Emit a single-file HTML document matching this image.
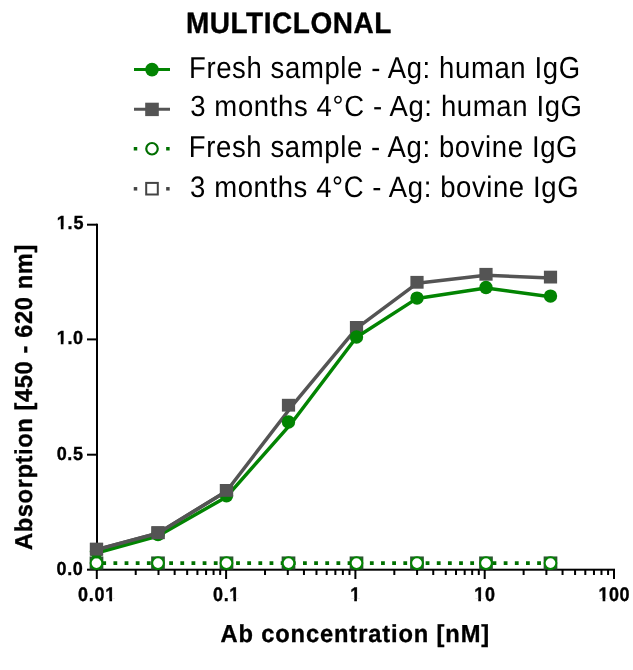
<!DOCTYPE html><html><head><meta charset="utf-8"><style>html,body{margin:0;padding:0;background:#fff;width:633px;height:670px;overflow:hidden}svg{display:block;will-change:transform}text{font-family:"Liberation Sans",sans-serif;text-rendering:geometricPrecision}</style></head><body>
<svg width="633" height="670" viewBox="0 0 633 670">
<rect width="633" height="670" fill="#fff"/>
<text transform="translate(185.94,33.00) scale(1.0000,1.0484)" font-size="28" font-weight="bold" stroke="#000" stroke-width="0.35" letter-spacing="0.526" fill="#000">MULTICLONAL</text>
<text transform="translate(188.99,77.80) scale(1.0000,1.1021)" font-size="27.5" letter-spacing="0.616" fill="#000">Fresh sample - Ag: human IgG</text>
<text transform="translate(190.14,116.20) scale(1.0000,1.0620)" font-size="27.5" letter-spacing="0.632" fill="#000">3 months 4°C - Ag: human IgG</text>
<text transform="translate(188.84,156.90) scale(1.0000,1.0939)" font-size="27.5" letter-spacing="0.614" fill="#000">Fresh sample - Ag: bovine IgG</text>
<text transform="translate(190.00,197.00) scale(1.0000,1.0755)" font-size="27.5" letter-spacing="0.599" fill="#000">3 months 4°C - Ag: bovine IgG</text>
<text transform="translate(56.72,229.00) scale(1.0000,1.0500)" font-size="18" font-weight="bold" stroke="#000" stroke-width="0.35" letter-spacing="0.893" fill="#000">1.5</text>
<text transform="translate(56.69,344.10) scale(1.0000,1.0500)" font-size="18" font-weight="bold" stroke="#000" stroke-width="0.35" letter-spacing="0.691" fill="#000">1.0</text>
<text transform="translate(56.66,459.70) scale(1.0000,1.0500)" font-size="18" font-weight="bold" stroke="#000" stroke-width="0.35" letter-spacing="0.684" fill="#000">0.5</text>
<text transform="translate(56.56,574.60) scale(1.0000,1.0500)" font-size="18" font-weight="bold" stroke="#000" stroke-width="0.35" letter-spacing="0.602" fill="#000">0.0</text>
<text transform="translate(77.94,600.80) scale(1.0000,1.0900)" font-size="18" font-weight="bold" stroke="#000" stroke-width="0.35" letter-spacing="0.780" fill="#000">0.01</text>
<text transform="translate(213.02,600.80) scale(1.0000,1.0900)" font-size="18" font-weight="bold" stroke="#000" stroke-width="0.35" letter-spacing="0.635" fill="#000">0.1</text>
<text transform="translate(350.14,600.80) scale(1.0000,1.0900)" font-size="18" font-weight="bold" stroke="#000" stroke-width="0.35" letter-spacing="0.600" fill="#000">1</text>
<text transform="translate(474.17,600.80) scale(1.0000,1.0900)" font-size="18" font-weight="bold" stroke="#000" stroke-width="0.35" letter-spacing="0.900" fill="#000">10</text>
<text transform="translate(598.52,600.80) scale(1.0000,1.0900)" font-size="18" font-weight="bold" stroke="#000" stroke-width="0.35" letter-spacing="0.438" fill="#000">100</text>
<text transform="translate(220.47,641.90) scale(0.9400,0.9762)" font-size="25.2" font-weight="bold" stroke="#000" stroke-width="0.35" letter-spacing="0.931" fill="#000">Ab concentration [nM]</text>
<g transform="translate(31.90,549.91) rotate(-90)"><text transform="translate(0.00,0.00) scale(0.9400,0.9701)" font-size="25.2" font-weight="bold" stroke="#000" stroke-width="0.35" letter-spacing="0.640" fill="#000">Absorption [450 - 620 nm]</text></g>
<rect x="56.86" y="226.62" width="3.97" height="3.93" fill="#fff"/>
<rect x="63.49" y="226.62" width="3.84" height="3.93" fill="#fff"/>
<rect x="56.83" y="341.72" width="3.97" height="3.93" fill="#fff"/>
<rect x="63.47" y="341.72" width="3.84" height="3.93" fill="#fff"/>
<rect x="105.44" y="598.35" width="3.97" height="4.00" fill="#fff"/>
<rect x="112.08" y="598.35" width="3.84" height="4.00" fill="#fff"/>
<rect x="229.44" y="598.35" width="3.97" height="4.00" fill="#fff"/>
<rect x="236.07" y="598.35" width="3.84" height="4.00" fill="#fff"/>
<rect x="350.27" y="598.35" width="3.97" height="4.00" fill="#fff"/>
<rect x="356.91" y="598.35" width="3.84" height="4.00" fill="#fff"/>
<rect x="474.31" y="598.35" width="3.97" height="4.00" fill="#fff"/>
<rect x="480.95" y="598.35" width="3.84" height="4.00" fill="#fff"/>
<rect x="598.66" y="598.35" width="3.97" height="4.00" fill="#fff"/>
<rect x="605.29" y="598.35" width="3.84" height="4.00" fill="#fff"/>
<line x1="134" y1="69.6" x2="170" y2="69.6" stroke="#028402" stroke-width="3"/>
<circle cx="152" cy="69.6" r="6.8" fill="#028402"/>
<line x1="134" y1="109.3" x2="170" y2="109.3" stroke="#545454" stroke-width="3"/>
<rect x="145.2" y="102.7" width="13.6" height="13.4" fill="#545454"/>
<rect x="133.75" y="147.0" width="3.5" height="3.5" fill="#007000"/><rect x="166.15" y="147.0" width="3.5" height="3.5" fill="#007000"/>
<rect x="133.75" y="187.05" width="3.5" height="3.5" fill="#444444"/><rect x="166.15" y="187.05" width="3.5" height="3.5" fill="#444444"/>
<circle cx="152" cy="148.75" r="5.75" fill="#fff" stroke="#006e00" stroke-width="2.2"/>
<rect x="146.2" y="182.9" width="11.6" height="11.6" fill="#fff" stroke="#444444" stroke-width="2.0"/>
<rect x="96" y="223.7" width="2" height="347.00" fill="#000"/>
<rect x="87" y="568.7" width="528" height="2" fill="#000"/>
<rect x="87" y="223.7" width="10" height="2" fill="#000"/>
<rect x="87" y="338.4" width="10" height="2" fill="#000"/>
<rect x="87" y="453.7" width="10" height="2" fill="#000"/>
<rect x="95.80" y="569.7" width="2" height="9.3" fill="#000"/>
<rect x="225.10" y="569.7" width="2" height="9.3" fill="#000"/>
<rect x="354.40" y="569.7" width="2" height="9.3" fill="#000"/>
<rect x="483.70" y="569.7" width="2" height="9.3" fill="#000"/>
<rect x="613.00" y="569.7" width="2" height="9.3" fill="#000"/>
<rect x="134.72" y="569.7" width="2" height="5.3" fill="#000"/>
<rect x="157.49" y="569.7" width="2" height="5.3" fill="#000"/>
<rect x="173.65" y="569.7" width="2" height="5.3" fill="#000"/>
<rect x="186.18" y="569.7" width="2" height="5.3" fill="#000"/>
<rect x="196.41" y="569.7" width="2" height="5.3" fill="#000"/>
<rect x="205.07" y="569.7" width="2" height="5.3" fill="#000"/>
<rect x="212.57" y="569.7" width="2" height="5.3" fill="#000"/>
<rect x="219.18" y="569.7" width="2" height="5.3" fill="#000"/>
<rect x="264.02" y="569.7" width="2" height="5.3" fill="#000"/>
<rect x="286.79" y="569.7" width="2" height="5.3" fill="#000"/>
<rect x="302.95" y="569.7" width="2" height="5.3" fill="#000"/>
<rect x="315.48" y="569.7" width="2" height="5.3" fill="#000"/>
<rect x="325.71" y="569.7" width="2" height="5.3" fill="#000"/>
<rect x="334.37" y="569.7" width="2" height="5.3" fill="#000"/>
<rect x="341.87" y="569.7" width="2" height="5.3" fill="#000"/>
<rect x="348.48" y="569.7" width="2" height="5.3" fill="#000"/>
<rect x="393.32" y="569.7" width="2" height="5.3" fill="#000"/>
<rect x="416.09" y="569.7" width="2" height="5.3" fill="#000"/>
<rect x="432.25" y="569.7" width="2" height="5.3" fill="#000"/>
<rect x="444.78" y="569.7" width="2" height="5.3" fill="#000"/>
<rect x="455.01" y="569.7" width="2" height="5.3" fill="#000"/>
<rect x="463.67" y="569.7" width="2" height="5.3" fill="#000"/>
<rect x="471.17" y="569.7" width="2" height="5.3" fill="#000"/>
<rect x="477.78" y="569.7" width="2" height="5.3" fill="#000"/>
<rect x="522.62" y="569.7" width="2" height="5.3" fill="#000"/>
<rect x="545.39" y="569.7" width="2" height="5.3" fill="#000"/>
<rect x="561.55" y="569.7" width="2" height="5.3" fill="#000"/>
<rect x="574.08" y="569.7" width="2" height="5.3" fill="#000"/>
<rect x="584.31" y="569.7" width="2" height="5.3" fill="#000"/>
<rect x="592.97" y="569.7" width="2" height="5.3" fill="#000"/>
<rect x="600.47" y="569.7" width="2" height="5.3" fill="#000"/>
<rect x="607.08" y="569.7" width="2" height="5.3" fill="#000"/>
<rect x="90.75" y="557.55" width="11.5" height="10.9" fill="#fff" stroke="#2c5532" stroke-width="2.2"/>
<rect x="152.25" y="557.55" width="11.5" height="10.9" fill="#fff" stroke="#2c5532" stroke-width="2.2"/>
<rect x="220.75" y="557.55" width="11.5" height="10.9" fill="#fff" stroke="#2c5532" stroke-width="2.2"/>
<rect x="282.75" y="557.55" width="11.5" height="10.9" fill="#fff" stroke="#2c5532" stroke-width="2.2"/>
<rect x="350.75" y="557.55" width="11.5" height="10.9" fill="#fff" stroke="#2c5532" stroke-width="2.2"/>
<rect x="411.25" y="557.55" width="11.5" height="10.9" fill="#fff" stroke="#2c5532" stroke-width="2.2"/>
<rect x="480.25" y="557.55" width="11.5" height="10.9" fill="#fff" stroke="#2c5532" stroke-width="2.2"/>
<rect x="544.75" y="557.55" width="11.5" height="10.9" fill="#fff" stroke="#2c5532" stroke-width="2.2"/>
<polyline points="96.5,563.1 550.5,563.1" fill="none" stroke="#007000" stroke-width="3.9" stroke-dasharray="3.8 7.35" stroke-dashoffset="5.35"/>
<circle cx="96.5" cy="563.1" r="5.85" fill="#fff" stroke="#028402" stroke-width="2.0"/>
<circle cx="158" cy="563.1" r="5.85" fill="#fff" stroke="#028402" stroke-width="2.0"/>
<circle cx="226.5" cy="563.1" r="5.85" fill="#fff" stroke="#028402" stroke-width="2.0"/>
<circle cx="288.5" cy="563.1" r="5.85" fill="#fff" stroke="#028402" stroke-width="2.0"/>
<circle cx="356.5" cy="563.1" r="5.85" fill="#fff" stroke="#028402" stroke-width="2.0"/>
<circle cx="417" cy="563.1" r="5.85" fill="#fff" stroke="#028402" stroke-width="2.0"/>
<circle cx="486" cy="563.1" r="5.85" fill="#fff" stroke="#028402" stroke-width="2.0"/>
<circle cx="550.5" cy="563.1" r="5.85" fill="#fff" stroke="#028402" stroke-width="2.0"/>
<polyline points="96.50,549.70 158.00,533.20 226.50,491.20 291.80,406.20 356.50,328.40 417.00,283.30 486.00,275.30 550.50,278.10" fill="none" stroke="#545454" stroke-width="3.5" stroke-linejoin="round"/>
<rect x="89.9" y="542.8000000000001" width="13.2" height="12.8" fill="#545454"/>
<rect x="151.4" y="526.3000000000001" width="13.2" height="12.8" fill="#545454"/>
<rect x="219.9" y="484.0" width="13.2" height="12.8" fill="#545454"/>
<rect x="281.9" y="398.8" width="13.2" height="12.8" fill="#545454"/>
<rect x="349.9" y="321.0" width="13.2" height="12.8" fill="#545454"/>
<rect x="410.4" y="275.90000000000003" width="13.2" height="12.8" fill="#545454"/>
<rect x="479.4" y="267.90000000000003" width="13.2" height="12.8" fill="#545454"/>
<rect x="543.9" y="270.70000000000005" width="13.2" height="12.8" fill="#545454"/>
<polyline points="96.50,553.00 158.00,536.00 226.50,496.90 291.80,422.80 356.50,337.30 417.00,298.40 486.00,288.10 550.50,296.70" fill="none" stroke="#028402" stroke-width="3.5" stroke-linejoin="round"/>
<circle cx="96.5" cy="551.5" r="6.7" fill="#028402"/>
<circle cx="158" cy="534.5" r="6.7" fill="#028402"/>
<circle cx="226.5" cy="495.7" r="6.7" fill="#028402"/>
<circle cx="288.5" cy="422" r="6.7" fill="#028402"/>
<circle cx="356.5" cy="337" r="6.7" fill="#028402"/>
<circle cx="417" cy="298.1" r="6.7" fill="#028402"/>
<circle cx="486" cy="287.5" r="6.7" fill="#028402"/>
<circle cx="550.5" cy="296.1" r="6.7" fill="#028402"/>
<polyline points="96.50,549.70 158.00,533.20 226.50,491.20" fill="none" stroke="#545454" stroke-width="3.5" stroke-linejoin="round"/>
<rect x="89.9" y="542.8000000000001" width="13.2" height="12.8" fill="#545454"/>
<rect x="151.4" y="526.3000000000001" width="13.2" height="12.8" fill="#545454"/>
<rect x="219.9" y="484.0" width="13.2" height="12.8" fill="#545454"/>
</svg></body></html>
